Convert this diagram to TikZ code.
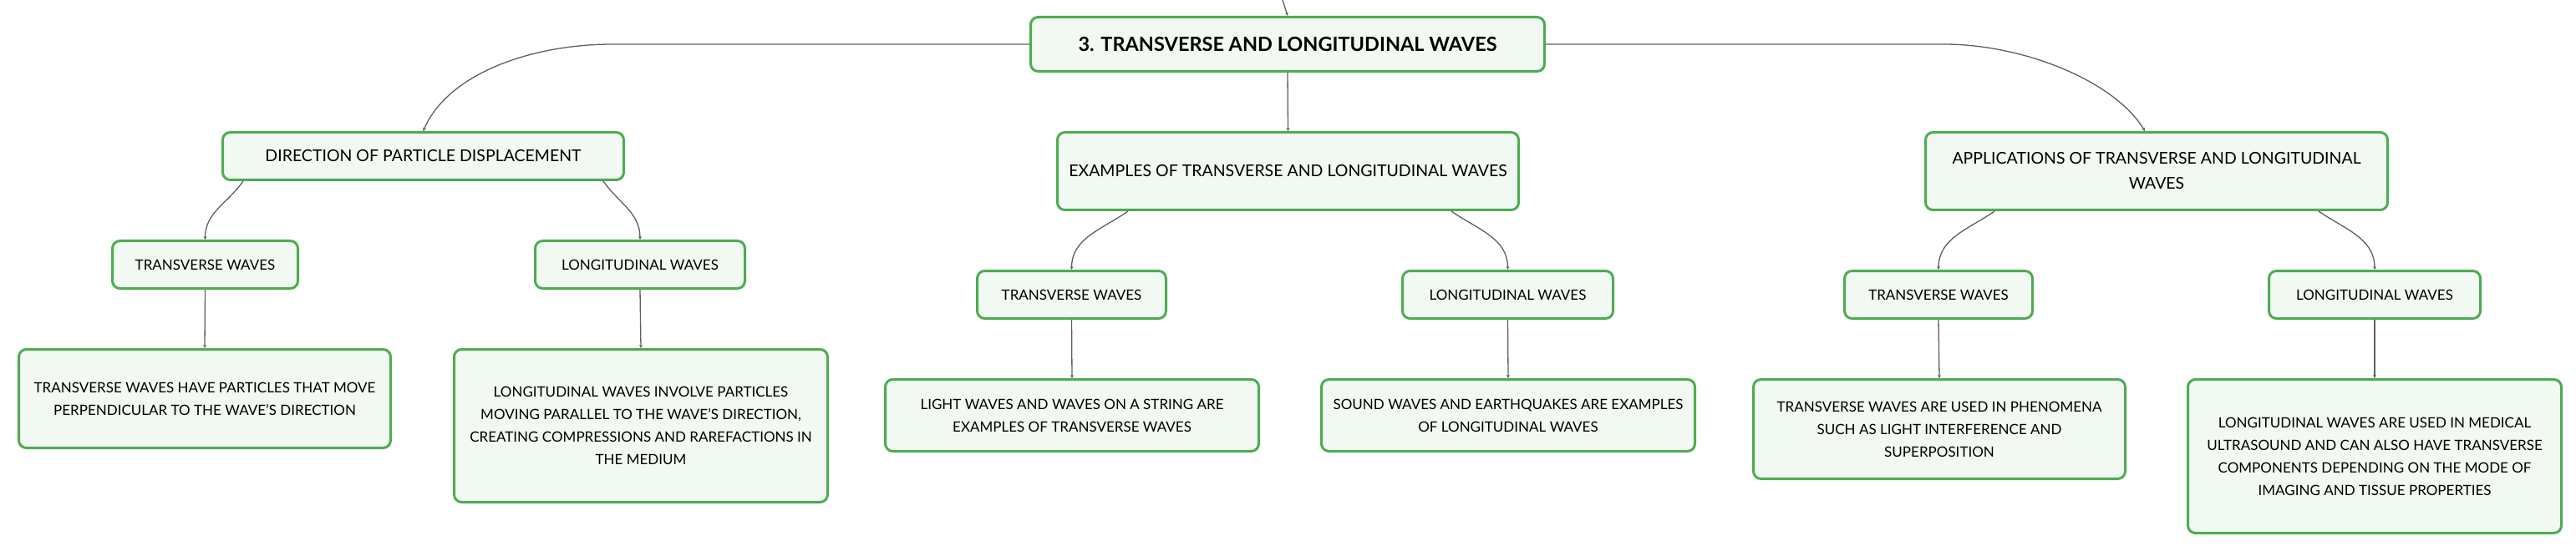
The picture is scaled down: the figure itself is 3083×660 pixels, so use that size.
\documentclass[tikz,border=0pt]{standalone}
\usepackage{fontspec}
\setmainfont{Lato}
\usetikzlibrary{arrows.meta}
\definecolor{boxgreen}{RGB}{78,172,82}
\definecolor{boxfill}{RGB}{241,249,242}
\definecolor{linkgray}{RGB}{95,95,95}

\begin{document}
\begin{tikzpicture}[x=1pt,y=1pt,
  box/.style={draw=boxgreen,fill=boxfill,line width=3pt,rounded corners=9pt,
    align=center,inner sep=0pt,text=black,font=\fontsize{17}{27}\selectfont},
  branch/.style={box,font=\fontsize{19.5}{30}\selectfont},
  link/.style={draw=linkgray,line width=1.3pt,-{Stealth[length=4pt,width=4pt]}}]
\useasboundingbox (0,0) rectangle (3083,-660);
% topic and main branches
\node[box,minimum width=615,minimum height=65,font=\fontsize{23.5}{28}\selectfont\bfseries]
  (root) at (1541,-53) {3. TRANSVERSE AND LONGITUDINAL WAVES};
\node[branch,minimum width=480,minimum height=57] (dpd) at (506.5,-187)
  {DIRECTION OF PARTICLE DISPLACEMENT};
\node[branch,minimum width=552,minimum height=93] (exa) at (1541.5,-205)
  {EXAMPLES OF TRANSVERSE AND LONGITUDINAL WAVES};
\node[branch,minimum width=553,minimum height=93] (app) at (2581,-205)
  {APPLICATIONS OF TRANSVERSE AND LONGITUDINAL\\WAVES};
% wave kinds
\node[box,minimum width=222,minimum height=57] (tw1) at (245.5,-317) {TRANSVERSE WAVES};
\node[box,minimum width=251,minimum height=57] (lw1) at (766,-317) {LONGITUDINAL WAVES};
\node[box,minimum width=226,minimum height=57] (tw2) at (1282.5,-353) {TRANSVERSE WAVES};
\node[box,minimum width=252,minimum height=57] (lw2) at (1804.5,-353) {LONGITUDINAL WAVES};
\node[box,minimum width=225,minimum height=57] (tw3) at (2320,-353) {TRANSVERSE WAVES};
\node[box,minimum width=253,minimum height=57] (lw3) at (2842,-353) {LONGITUDINAL WAVES};
% descriptions
\node[box,minimum width=445,minimum height=118] (d1) at (245,-477.5)
  {TRANSVERSE WAVES HAVE PARTICLES THAT MOVE\\PERPENDICULAR TO THE WAVE'S DIRECTION};
\node[box,minimum width=447,minimum height=183] (d2) at (767,-510)
  {LONGITUDINAL WAVES INVOLVE PARTICLES\\MOVING PARALLEL TO THE WAVE'S DIRECTION,\\CREATING COMPRESSIONS AND RAREFACTIONS IN\\THE MEDIUM};
\node[box,minimum width=447,minimum height=86] (d3) at (1283,-497.5)
  {LIGHT WAVES AND WAVES ON A STRING ARE\\EXAMPLES OF TRANSVERSE WAVES};
\node[box,minimum width=447,minimum height=86] (d4) at (1805,-497.5)
  {SOUND WAVES AND EARTHQUAKES ARE EXAMPLES\\OF LONGITUDINAL WAVES};
\node[box,minimum width=445,minimum height=119] (d5) at (2321,-514)
  {TRANSVERSE WAVES ARE USED IN PHENOMENA\\SUCH AS LIGHT INTERFERENCE AND\\SUPERPOSITION};
\node[box,minimum width=447,minimum height=184] (d6) at (2842,-546.5)
  {LONGITUDINAL WAVES ARE USED IN MEDICAL\\ULTRASOUND AND CAN ALSO HAVE TRANSVERSE\\COMPONENTS DEPENDING ON THE MODE OF\\IMAGING AND TISSUE PROPERTIES};
% links from the topic
\coordinate (up) at (1535,0);
\draw[link] (up) -- (root.north);
\draw[link] (root.west) -- ++(-499,0) .. controls ++(-95,0) and ([xshift=30,yshift=70]dpd.north) .. (dpd.north);
\draw[link] (root.south) -- (exa.north);
\draw[link] (root.east) -- ++(477,0) .. controls ++(93,0) and ([xshift=-51,yshift=61]app.north) .. ([xshift=-14]app.north);
% links to wave kinds
\draw[link] ([xshift=-215.5]dpd.south) to[out=-125,in=90] (tw1.north);
\draw[link] ([xshift=215.5]dpd.south) to[out=-55,in=90] (lw1.north);
\draw[link] ([xshift=-191.5]exa.south) to[out=-145,in=90] (tw2.north);
\draw[link] ([xshift=195.5]exa.south) to[out=-35,in=90] (lw2.north);
\draw[link] ([xshift=-194]app.south) to[out=-145,in=90] (tw3.north);
\draw[link] ([xshift=194]app.south) to[out=-35,in=90] (lw3.north);
% links to descriptions
\draw[link] (tw1.south) -- (d1.north);
\draw[link] (lw1.south) -- (d2.north);
\draw[link] (tw2.south) -- (d3.north);
\draw[link] (lw2.south) -- (d4.north);
\draw[link] (tw3.south) -- (d5.north);
\draw[link] (lw3.south) -- (d6.north);
\end{tikzpicture}
\end{document}
